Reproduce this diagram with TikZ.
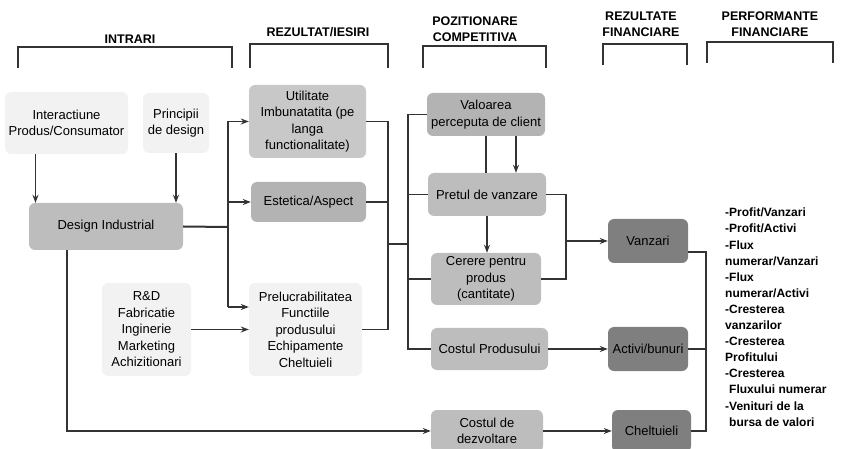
\documentclass[tikz,border=0pt]{standalone}
\usepackage{fontspec}
\setmainfont{Liberation Sans}
\usetikzlibrary{arrows.meta,calc}
\definecolor{lightbox}{HTML}{F2F2F2}
\definecolor{midbox}{HTML}{BDBDBD}
\definecolor{utilbox}{HTML}{C8C8C8}
\definecolor{estbox}{HTML}{B3B3B3}
\definecolor{darkbox}{HTML}{7F7F7F}
\definecolor{linec}{HTML}{333333}
\tikzset{
  box/.style={rectangle, rounded corners=6pt, draw=none, inner sep=0pt, align=center,
    font=\fontsize{13}{16.5}\selectfont},
  light/.style={box, fill=lightbox},
  mid/.style={box, fill=midbox},
  dark/.style={box, fill=darkbox},
  line/.style={draw=linec, line width=1.2pt},
  arr/.style={line, -{Stealth[length=8pt,width=6pt]}},
  head/.style={font=\fontsize{12.5}{16}\selectfont\bfseries, align=center, inner sep=0pt},
  bracket/.style={draw=linec, line width=1.2pt}
}
\begin{document}
\begin{tikzpicture}[x=1pt,y=-1pt]
\useasboundingbox (0,0) rectangle (844,449);
% headers
\node[head] (hin) at (130,39) {INTRARI};
\node[head] (hrez) at (318,32) {REZULTAT/IESIRI};
\node[head] (hpoz) at (475,29) {POZITIONARE\\COMPETITIVA};
\node[head] (hfin) at (641,24) {REZULTATE\\FINANCIARE};
\node[head] (hperf) at (770,24) {PERFORMANTE\\FINANCIARE};
\draw[bracket] (18,68) |- (232,47) -- (232,68);
\draw[bracket] (250,68) |- (388,44) -- (388,68);
\draw[bracket] (423,68) |- (546,46) -- (546,68);
\draw[bracket] (603,65) |- (687,44) -- (687,65);
\draw[bracket] (707,63) |- (833,42) -- (833,63);
% nodes
\node[light, minimum width=123pt, minimum height=62pt] (inter) at (66.5,123) {Interactiune\\Produs/Consumator};
\node[light, minimum width=66pt, minimum height=60pt] (princ) at (176,123) {Principii\\de design};
\node[mid, minimum width=154pt, minimum height=47pt] (design) at (106,226.5) {Design Industrial};
\node[box, fill=utilbox, minimum width=117pt, minimum height=73pt] (util) at (307.5,121.5) {Utilitate\\Imbunatatita (pe\\langa\\functionalitate)};
\node[box, fill=estbox, minimum width=115pt, minimum height=40pt] (estet) at (308.5,202) {Estetica/Aspect};
\node[light, minimum width=113pt, minimum height=93pt] (prelu) at (305.5,329.5) {Prelucrabilitatea\\Functiile\\produsului\\Echipamente\\Cheltuieli};
\node[light, minimum width=89pt, minimum height=93pt] (rd) at (146.5,329.5) {R\&D\\Fabricatie\\Inginerie\\Marketing\\Achizitionari};
\node[box, fill=estbox, minimum width=118pt, minimum height=43pt] (valo) at (486,114.5) {Valoarea\\perceputa de client};
\node[mid, minimum width=118pt, minimum height=43pt] (pret) at (487,194.5) {Pretul de vanzare};
\node[mid, minimum width=110pt, minimum height=52pt] (cerere) at (486,279) {Cerere pentru\\produs\\(cantitate)};
\node[mid, minimum width=117pt, minimum height=42pt] (costp) at (489.5,349) {Costul Produsului};
\node[mid, minimum width=112pt, minimum height=42pt] (costd) at (487,431) {Costul de\\dezvoltare};
\node[dark, minimum width=80pt, minimum height=44pt] (vanz) at (648,241) {Vanzari};
\node[dark, minimum width=80pt, minimum height=44pt] (activ) at (648,349) {Activi/bunuri};
\node[dark, minimum width=79pt, minimum height=42pt] (chelt) at (651.5,431) {Cheltuieli};
\node[anchor=north west, inner sep=0pt, align=left, font=\fontsize{12}{16.1}\selectfont\bfseries] (perf) at (725,208)
 {-Profit/Vanzari\\-Profit/Activi\\-Flux\\numerar/Vanzari\\-Flux\\numerar/Activi\\-Cresterea\\vanzarilor\\-Cresterea\\Profitului\\-Cresterea\\\hspace*{4pt}Fluxului numerar\\-Venituri de la\\\hspace*{4pt}bursa de valori};
% coordinates for trunks
\coordinate (t1) at (228,227);
\coordinate (t2) at (388,244);
\coordinate (t3) at (408,244);
\coordinate (t4) at (566,242);
\coordinate (t5) at (706,300);
% input arrows
\draw[arr] ([xshift=-31pt]inter.south) -- ([xshift=-31pt]inter.south |- design.north);
\draw[arr] (princ.south) -- (princ.south |- design.north);
% design industrial outputs
\draw[line, line width=2pt] (design.east) -- (t1);
\draw[line] (t1 |- util.west) -- (t1 |- 0,307);
\draw[arr] (t1 |- util.west) -- (util.west);
\draw[arr] (t1 |- estet.west) -- (estet.west);
\draw[arr] (t1 |- 0,307) -- (prelu.west |- 0,307);
\draw[arr] ([xshift=-39pt]design.south) |- (costd.west);
\draw[arr] (rd.east) -- (prelu.west);
% rezultat -> pozitionare
\draw[line] (util.east) -- (util.east -| t2) -- (prelu.east -| t2) -- (prelu.east);
\draw[line] (estet.east) -- (estet.east -| t2);
\draw[line] (t2) -- (t3);
\draw[line] (valo.west) -- (valo.west -| t3) -- (costp.west -| t3) -- (costp.west);
\draw[line] (pret.west -| t3) -- (pret.west);
\draw[line] (cerere.west -| t3) -- (cerere.west);
% within pozitionare
\draw[line] (valo.south) -- (valo.south |- pret.north);
\draw[arr] ([xshift=30pt]valo.south) -- ([xshift=30pt]valo.south |- pret.north);
\draw[arr] (pret.south) -- (pret.south |- cerere.north);
% to financial results
\draw[line] (pret.east) -- (pret.east -| t4) -- (cerere.east -| t4) -- (cerere.east);
\draw[arr] (t4 |- vanz.west) -- (vanz.west);
\draw[arr] (costp.east) -- (activ.west);
\draw[arr] (costd.east) -- (chelt.west);
% to performance
\draw[line] ([yshift=-11pt]vanz.east) -- ([yshift=-11pt]vanz.east -| t5) -- (chelt.east -| t5) -- (chelt.east);
\draw[line] (activ.east) -- (activ.east -| t5);
\end{tikzpicture}
\end{document}
